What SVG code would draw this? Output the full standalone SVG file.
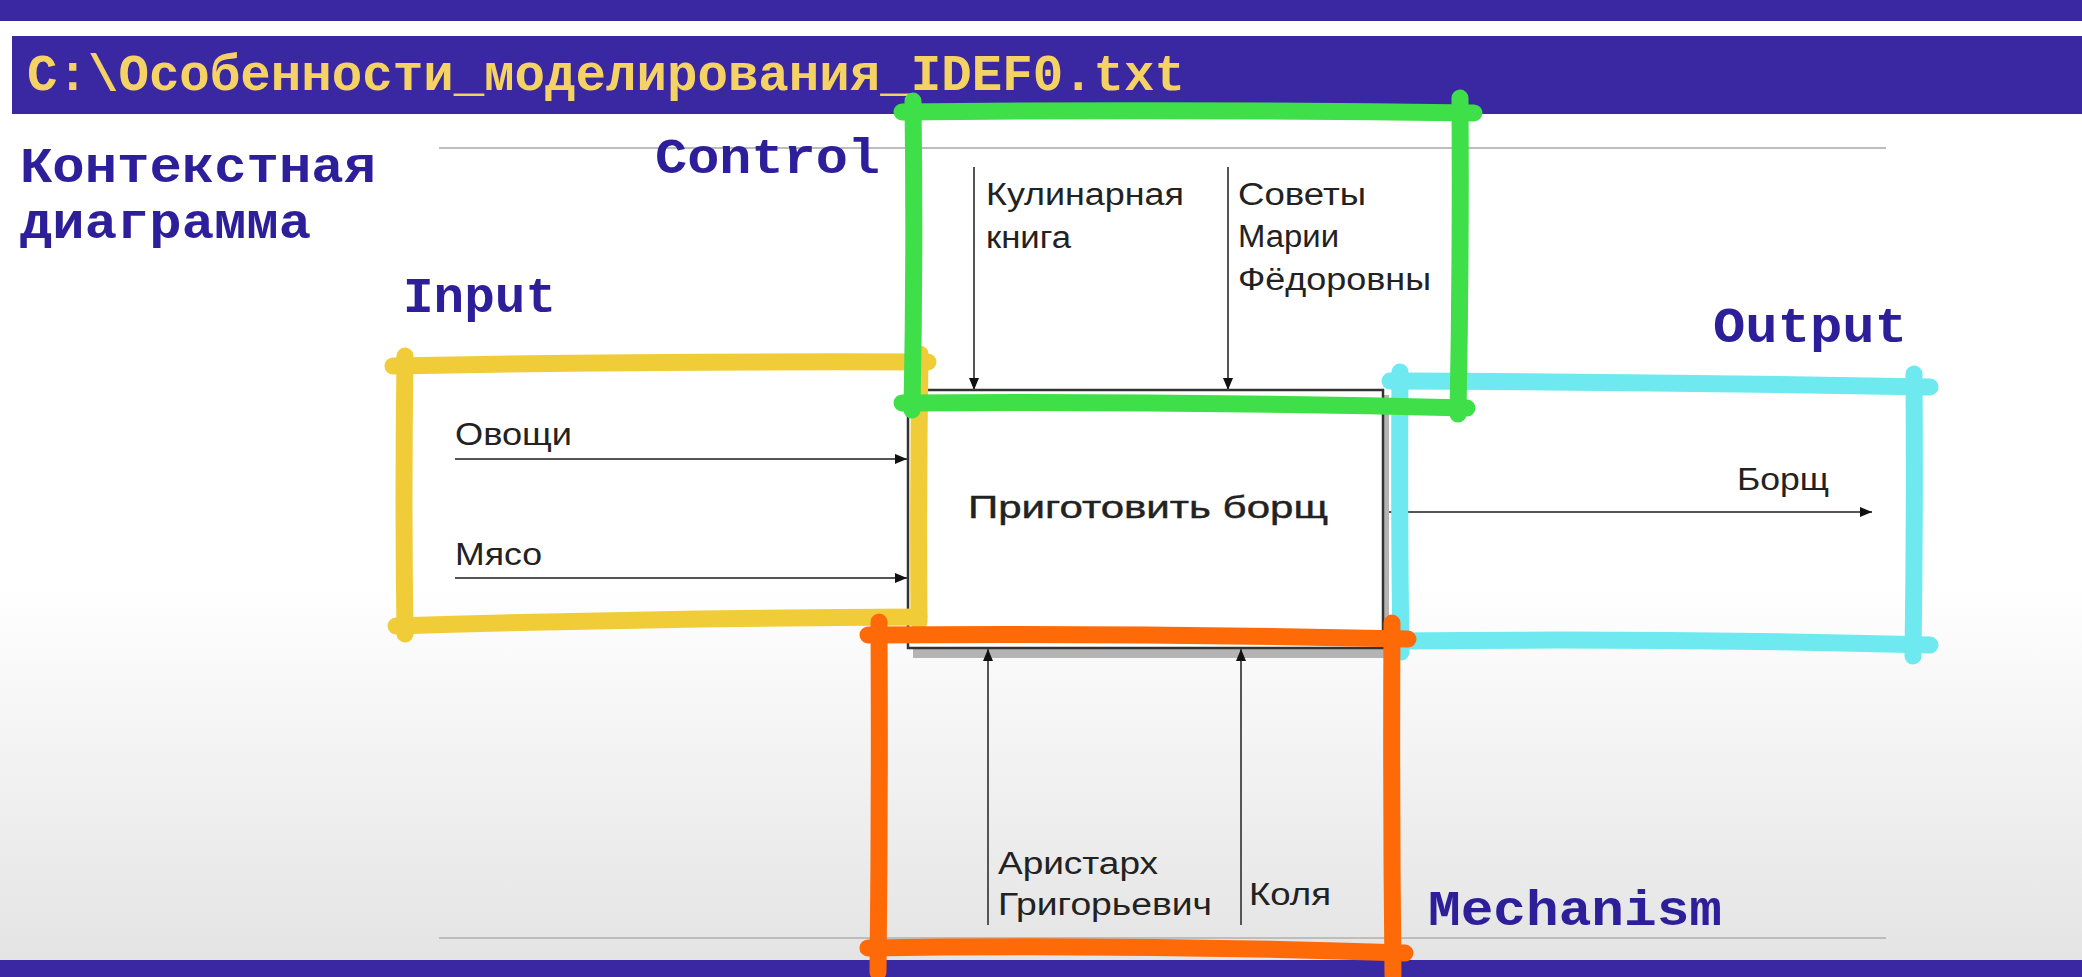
<svg xmlns="http://www.w3.org/2000/svg" width="2082" height="977" viewBox="0 0 2082 977">
<defs>
<linearGradient id="bg" x1="0" y1="0" x2="0" y2="977" gradientUnits="userSpaceOnUse">
<stop offset="0" stop-color="#ffffff"/>
<stop offset="0.6" stop-color="#ffffff"/>
<stop offset="0.98" stop-color="#e4e4e4"/>
</linearGradient>
<marker id="ah" viewBox="0 0 12 10" refX="12" refY="5" markerWidth="12" markerHeight="10" markerUnits="userSpaceOnUse" orient="auto">
<path d="M0,0 L12,5 L0,10 Z" fill="#111"/>
</marker>
<style>
.bar{fill:#3a28a2}
.dos{font-family:"Liberation Mono","DejaVu Sans Mono",monospace;font-weight:bold;fill:#2d1e9a;font-size:50px}
.title{font-family:"Liberation Mono","DejaVu Sans Mono",monospace;font-weight:bold;fill:#f4d264;font-size:52px}
.lbl{font-family:"Liberation Sans","Arial",sans-serif;fill:#222;font-size:31px}
.conn{stroke:#555;stroke-width:2;fill:none;marker-end:url(#ah)}
.rule{stroke:#bdbdbd;stroke-width:2}
.hand{fill:none;stroke-width:17;stroke-linecap:round;stroke-linejoin:round}
.y{stroke:#f0cd38}
.g{stroke:#3edf48}
.c{stroke:#6de9ef}
.o{stroke:#fd6a07}
</style>
</defs>
<rect x="0" y="0" width="2082" height="977" fill="url(#bg)"/>
<rect class="bar" x="0" y="0" width="2082" height="21"/>
<rect class="bar" x="12" y="36" width="2070" height="78"/>
<rect class="bar" x="0" y="960" width="2082" height="17"/>
<text class="title" x="27" y="90" textLength="1158" lengthAdjust="spacingAndGlyphs">C:\Особенности_моделирования_IDEF0.txt</text>

<line class="rule" x1="439" y1="148" x2="1886" y2="148"/>
<line class="rule" x1="439" y1="938" x2="1886" y2="938"/>

<text class="dos" x="20" y="182" textLength="356" lengthAdjust="spacingAndGlyphs">Контекстная</text>
<text class="dos" x="20" y="238" textLength="291" lengthAdjust="spacingAndGlyphs">диаграмма</text>
<text class="dos" x="655" y="173" textLength="225" lengthAdjust="spacingAndGlyphs">Control</text>
<text class="dos" x="403" y="312" textLength="153" lengthAdjust="spacingAndGlyphs">Input</text>
<text class="dos" x="1713" y="342" textLength="194" lengthAdjust="spacingAndGlyphs">Output</text>
<text class="dos" x="1428" y="925" textLength="294" lengthAdjust="spacingAndGlyphs">Mechanism</text>

<g id="node-main">
<rect x="913" y="395" width="476" height="263" fill="#b4b4b4"/>
<rect x="908" y="390" width="475" height="258" fill="#ffffff" stroke="#333" stroke-width="2.5"/>
<text class="lbl" x="968" y="518" font-size="39" textLength="360" lengthAdjust="spacingAndGlyphs" stroke="#222" stroke-width="0.4">Приготовить борщ</text>
</g>

<g id="connectors">
<line class="conn" x1="455" y1="459" x2="907" y2="459"/>
<line class="conn" x1="455" y1="578" x2="907" y2="578"/>
<line class="conn" x1="974" y1="167" x2="974" y2="390"/>
<line class="conn" x1="1228" y1="167" x2="1228" y2="390"/>
<line class="conn" x1="1389" y1="512" x2="1872" y2="512"/>
<line class="conn" x1="988" y1="925" x2="988" y2="649"/>
<line class="conn" x1="1241" y1="925" x2="1241" y2="649"/>
</g>

<g id="labels">
<text class="lbl" x="455" y="445" textLength="117" lengthAdjust="spacingAndGlyphs">Овощи</text>
<text class="lbl" x="455" y="565" textLength="87" lengthAdjust="spacingAndGlyphs">Мясо</text>
<text class="lbl" x="986" y="205" textLength="198" lengthAdjust="spacingAndGlyphs">Кулинарная</text>
<text class="lbl" x="986" y="248" textLength="85" lengthAdjust="spacingAndGlyphs">книга</text>
<text class="lbl" x="1238" y="205" textLength="128" lengthAdjust="spacingAndGlyphs">Советы</text>
<text class="lbl" x="1238" y="247" textLength="101" lengthAdjust="spacingAndGlyphs">Марии</text>
<text class="lbl" x="1238" y="290" textLength="193" lengthAdjust="spacingAndGlyphs">Фёдоровны</text>
<text class="lbl" x="1737" y="490" textLength="92" lengthAdjust="spacingAndGlyphs">Борщ</text>
<text class="lbl" x="998" y="874" textLength="160" lengthAdjust="spacingAndGlyphs">Аристарх</text>
<text class="lbl" x="998" y="915" textLength="214" lengthAdjust="spacingAndGlyphs">Григорьевич</text>
<text class="lbl" x="1249" y="905" textLength="82" lengthAdjust="spacingAndGlyphs">Коля</text>
</g>

<g id="node-input">
<path class="hand y" d="M393 366 Q650 361 928 362"/>
<path class="hand y" d="M405 356 Q403 500 405 634"/>
<path class="hand y" d="M396 626 Q650 618 919 617"/>
<path class="hand y" d="M920 354 Q918 490 919 622"/>
</g>
<g id="node-output">
<path class="hand c" d="M1390 381 Q1660 382 1930 387"/>
<path class="hand c" d="M1400 372 Q1399 520 1401 652"/>
<path class="hand c" d="M1400 641 Q1660 638 1930 645"/>
<path class="hand c" d="M1914 374 Q1915 520 1913 656"/>
</g>
<g id="node-control">
<path class="hand g" d="M902 112 Q1180 109 1474 113"/>
<path class="hand g" d="M913 101 Q915 260 912 410"/>
<path class="hand g" d="M902 403 Q1180 401 1467 408"/>
<path class="hand g" d="M1460 98 Q1461 260 1458 414"/>
</g>
<g id="node-mechanism">
<path class="hand o" d="M868 635 Q1140 633 1408 639"/>
<path class="hand o" d="M879 622 Q880 800 878 972"/>
<path class="hand o" d="M868 948 Q1140 944 1405 953"/>
<path class="hand o" d="M1392 623 Q1391 800 1393 975"/>
</g>
</svg>
